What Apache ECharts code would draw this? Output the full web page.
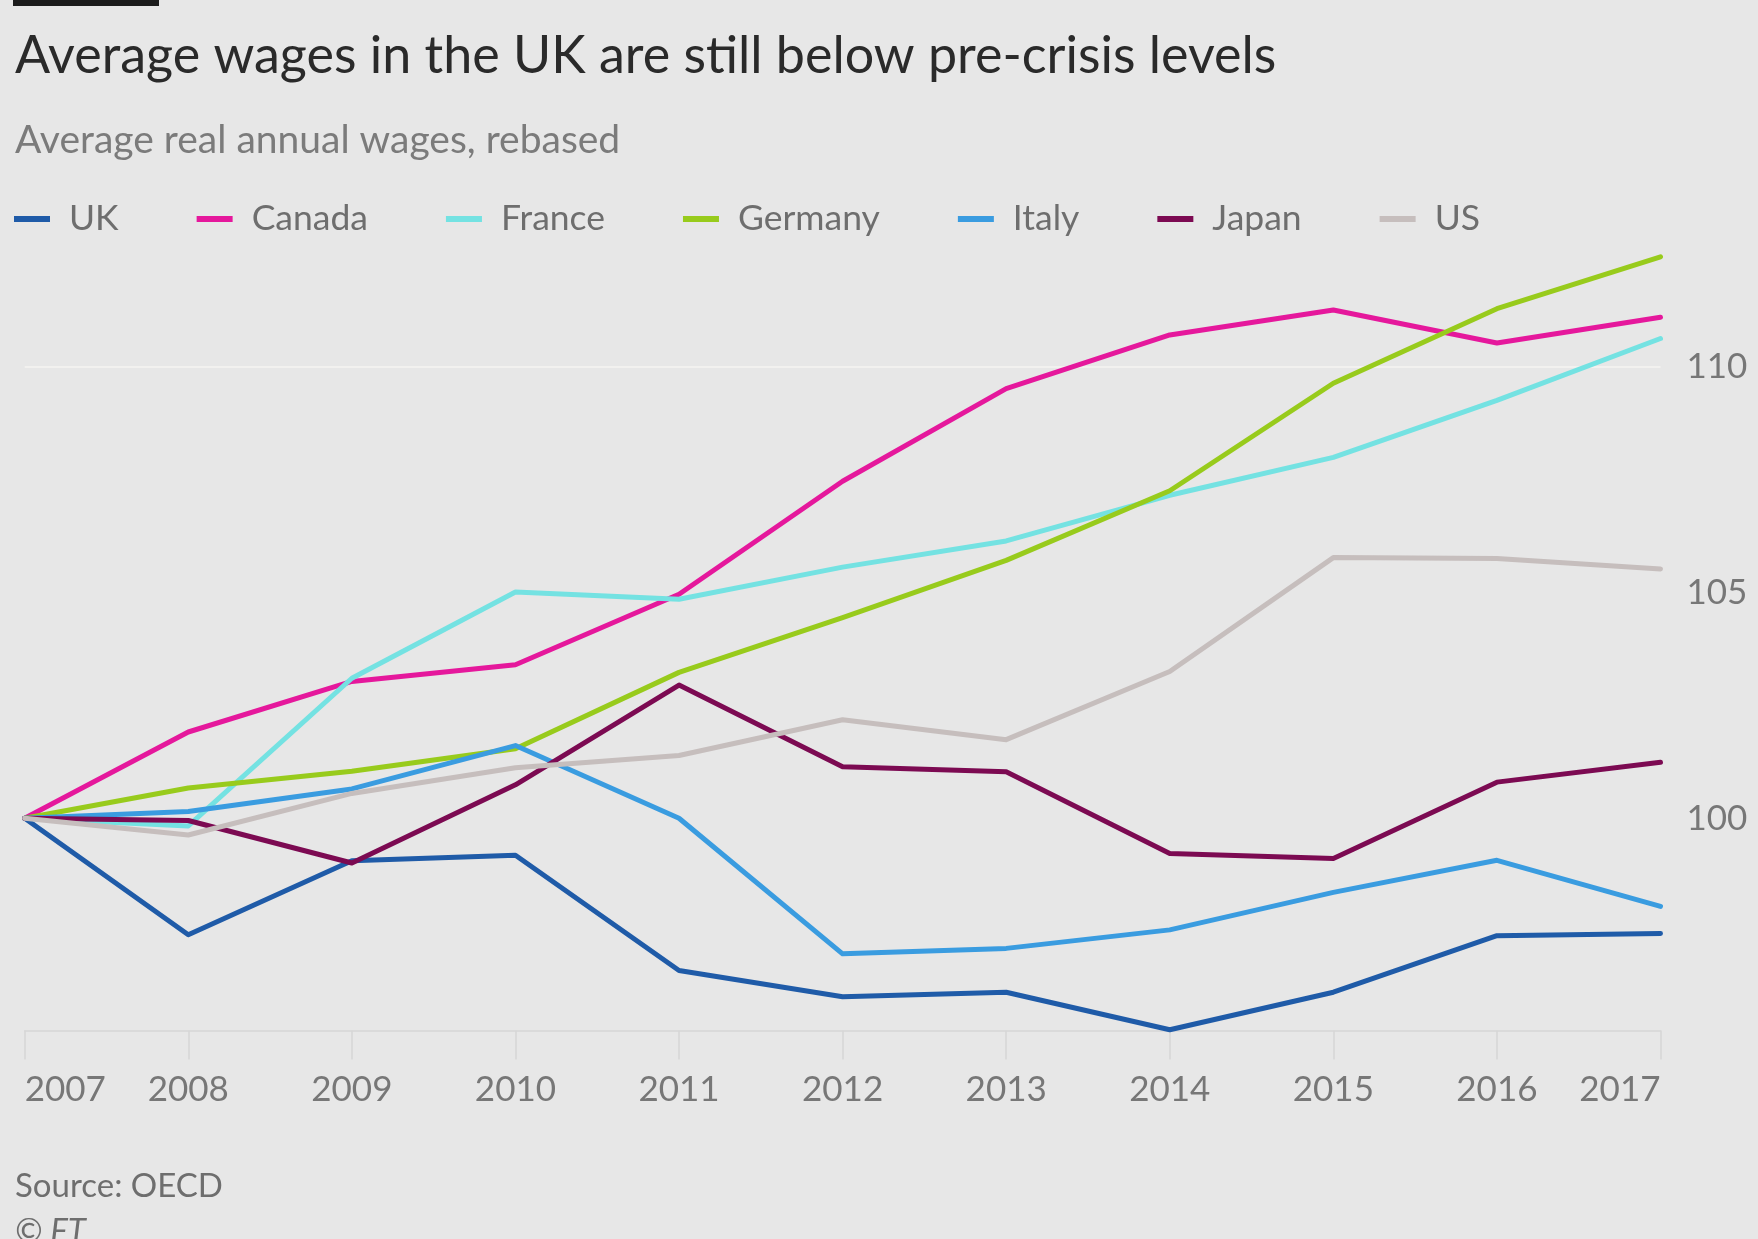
<!DOCTYPE html>
<html>
<head>
<meta charset="utf-8">
<title>Average wages in the UK are still below pre-crisis levels</title>
<script src="https://cdn.jsdelivr.net/npm/echarts@6/dist/echarts.min.js"></script>
<style>
  html, body { margin: 0; padding: 0; background: #e7e7e7; }
  #chart { width: 1758px; height: 1239px; }
</style>
</head>
<body>
<div id="chart"></div>
<script>
// Average real annual wages, rebased to 2007 = 100 (OECD)
const years = ['2007', '2008', '2009', '2010', '2011', '2012', '2013', '2014', '2015', '2016', '2017'];

const uk      = [100, 97.42, 99.06, 99.18, 96.63, 96.05, 96.15, 95.32, 96.15, 97.40, 97.45];
const canada  = [100, 101.91, 103.03, 103.40, 104.96, 107.46, 109.51, 110.70, 111.25, 110.52, 111.09];
const france  = [100, 99.83, 103.10, 105.01, 104.85, 105.56, 106.14, 107.15, 107.99, 109.25, 110.62];
const germany = [100, 100.67, 101.04, 101.54, 103.23, 104.44, 105.71, 107.25, 109.63, 111.28, 112.43];
const italy   = [100, 100.15, 100.65, 101.61, 100.0, 97.00, 97.12, 97.53, 98.36, 99.07, 98.05];
const japan   = [100, 99.95, 99.01, 100.74, 102.95, 101.14, 101.03, 99.22, 99.11, 100.80, 101.24];
const us      = [100, 99.63, 100.55, 101.12, 101.39, 102.18, 101.74, 103.25, 105.77, 105.75, 105.52];

const yTicks = [100, 105, 110];
const highlightGridValue = 110;

const FONT = 'Lato, "Open Sans", sans-serif';

const seriesDefs = [
  { name: 'UK',      data: uk,      color: '#1f5ba8' },
  { name: 'Canada',  data: canada,  color: '#e5189c' },
  { name: 'France',  data: france,  color: '#74e2e2' },
  { name: 'Germany', data: germany, color: '#98cb1c' },
  { name: 'Italy',   data: italy,   color: '#3a9ce0' },
  { name: 'Japan',   data: japan,   color: '#7c0a52' },
  { name: 'US',      data: us,      color: '#c6bebd' }
];

const chart = echarts.init(document.getElementById('chart'), null, { renderer: 'canvas' });

const series = seriesDefs.map(function (s, i) {
  const item = {
    name: s.name,
    type: 'line',
    data: s.data,
    symbol: 'none',
    smooth: false,
    lineStyle: { width: 5, color: s.color, cap: 'round', join: 'round' },
    itemStyle: { color: s.color },
    z: 3,
    emphasis: { disabled: true },
    animation: false
  };
  if (i === 0) {
    // single light rule across the plot at 110
    item.markLine = {
      silent: true,
      symbol: 'none',
      label: { show: false },
      lineStyle: { color: '#f6f4f2', width: 1.5, type: 'solid' },
      data: [{ yAxis: highlightGridValue }],
      z: 1,
      animation: false
    };
  }
  return item;
});

const option = {
  backgroundColor: '#e7e7e7',
  animation: false,
  title: [
    {
      text: 'Average wages in the UK are still below pre-crisis levels',
      left: 10,
      top: 25,
      textStyle: { fontFamily: FONT, fontSize: 52, fontWeight: 'normal', color: '#2a2a2a' }
    },
    {
      text: 'Average real annual wages, rebased',
      left: 10,
      top: 116,
      textStyle: { fontFamily: FONT, fontSize: 39, fontWeight: 'normal', color: '#7b7b7b' }
    },
    {
      text: 'Source: OECD',
      left: 10,
      top: 1165,
      textStyle: { fontFamily: FONT, fontSize: 33, fontWeight: 'normal', color: '#6e6e6e' }
    },
    {
      text: '© FT',
      left: 10,
      top: 1210,
      textStyle: { fontFamily: FONT, fontSize: 33, fontStyle: 'italic', fontWeight: 'normal', color: '#6e6e6e' }
    }
  ],
  legend: {
    left: 9,
    top: 196,
    icon: 'rect',
    itemWidth: 36,
    itemHeight: 6,
    itemGap: 78,
    selectedMode: false,
    data: seriesDefs.map(function (s) { return s.name; }),
    textStyle: { fontFamily: FONT, fontSize: 35.5, color: '#6e6e6e', padding: [0, 0, 0, 14] }
  },
  grid: {
    left: 24.7,
    right: 97.5,
    top: 253.6,
    bottom: 208.4,
    containLabel: false
  },
  xAxis: {
    type: 'category',
    data: years,
    boundaryGap: false,
    axisLine: { show: true, lineStyle: { color: '#d6d6d6', width: 1.5 } },
    axisTick: { show: true, length: 29, lineStyle: { color: '#d6d6d6', width: 1.5 } },
    axisLabel: {
      fontFamily: FONT,
      fontSize: 35,
      color: '#777777',
      margin: 42,
      alignMinLabel: 'left',
      alignMaxLabel: 'right'
    },
    splitLine: { show: false }
  },
  yAxis: {
    type: 'value',
    position: 'right',
    min: 95.3,
    max: 112.5,
    axisLine: { show: false },
    axisTick: { show: false, customValues: yTicks },
    splitLine: { show: false },
    axisLabel: {
      customValues: yTicks,
      fontFamily: FONT,
      fontSize: 35,
      color: '#777777',
      margin: 26,
      align: 'left'
    }
  },
  graphic: [
    { type: 'rect', left: 13, top: 0, shape: { width: 146, height: 6 }, style: { fill: '#1c1c1c' } }
  ],
  series: series
};

chart.setOption(option);
</script>
</body>
</html>
